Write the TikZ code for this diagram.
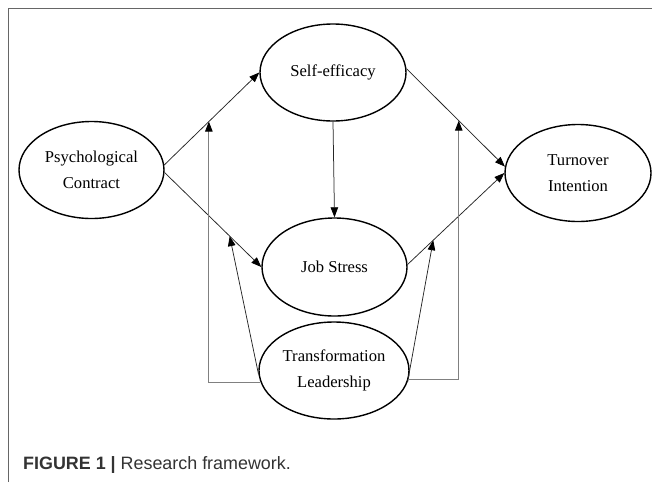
\documentclass[tikz,border=0pt]{standalone}
\usepackage{fontspec}
\setmainfont{Liberation Serif}
\newfontfamily\capfont{Liberation Sans}
\usetikzlibrary{shapes.geometric,arrows.meta,calc}
\begin{document}
\begin{tikzpicture}[x=1pt,y=-1pt,
  ell/.style={ellipse, draw, line width=1.4pt, inner sep=0pt, align=center,
    font=\fontsize{16.6}{26.5}\selectfont},
  arr/.style={-{Triangle[length=10pt,width=7.5pt,color=black]}, line width=0.75pt, black!85},
  brk/.style={-{Triangle[length=10pt,width=7.5pt,color=black]}, line width=0.85pt, black!50},
  frame/.style={line width=1pt, black!60}]
\useasboundingbox (0,0) rectangle (652,482);
\draw[frame] (8,482) -- (8,8) -- (652,8);

\node[ell, minimum width=145pt, minimum height=97pt] (pc) at (91.5,170) {Psychological\\Contract};
\node[ell, minimum width=146pt, minimum height=97pt] (se) at (333,72.5) {Self-efficacy};
\node[ell, minimum width=146pt, minimum height=97pt] (ti) at (578,173) {Turnover\\Intention};
\node[ell, minimum width=145pt, minimum height=98pt] (js) at (334.5,267) {Job Stress};
\node[ell, minimum width=150pt, minimum height=97pt] (tl) at (334,370.5) {Transformation\\Leadership};

\draw[arr] (pc.4) -- (se.west);
\draw[arr] (pc.-2) -- (js.west);
\draw[arr] (se.south) -- (js.north);
\draw[arr] (se.3) -- (ti.175);
\draw[arr] (js.2) -- (ti.west);

\coordinate (m1) at ($(pc.4)!0.469!(se.west)$);
\coordinate (m2) at ($(pc.-2)!0.673!(js.west)$);
\coordinate (m3) at ($(js.2)!0.265!(ti.west)$);
\coordinate (m4) at ($(se.3)!0.531!(ti.175)$);

\draw[brk] (tl.189) -| (m1);
\draw[arr] (tl.183) -- (m2);
\draw[arr] (tl.-9) -- (m3);
\draw[brk] (tl.-7) -| (m4);

\node[anchor=base west, inner sep=0pt, font=\capfont\fontsize{17.9}{20}\selectfont, text=black!80] (cap) at (23,469)
  {\textbf{FIGURE 1 |} Research framework.};
\end{tikzpicture}
\end{document}
